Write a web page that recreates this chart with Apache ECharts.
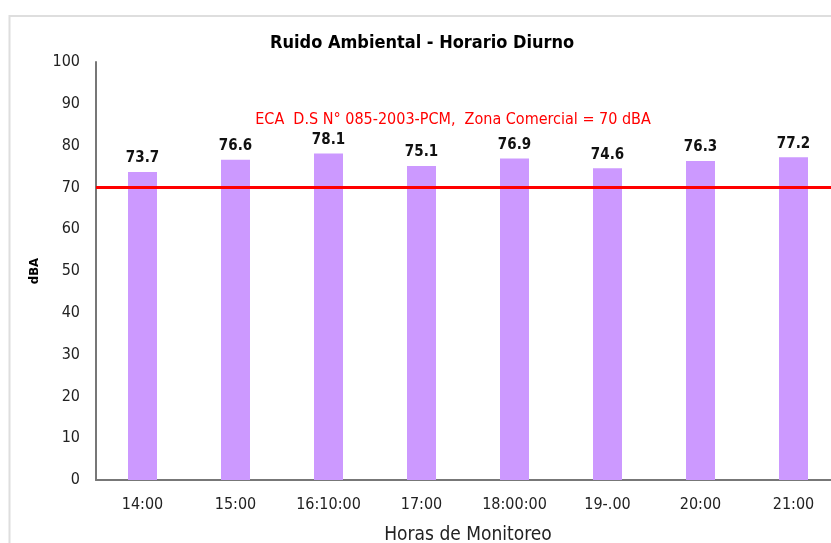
<!DOCTYPE html>
<html>
<head>
<meta charset="utf-8">
<script src="https://cdn.jsdelivr.net/npm/echarts@6/dist/echarts.min.js"></script>
<style>
  html, body { margin: 0; padding: 0; background: #fff; }
  #chart { width: 831px; height: 543px; }
</style>
</head>
<body>
<div id="chart"></div>
<script>
// Measured daytime ambient noise per monitoring hour (dBA)
const horas = ['14:00', '15:00', '16:10:00', '17:00', '18:00:00', '19-.00', '20:00', '21:00'];
const ruido = [73.7, 76.6, 78.1, 75.1, 76.9, 74.6, 76.3, 77.2];
// Environmental quality standard for commercial zones
const limiteECA = 70;
const yTicks = { min: 0, max: 100, interval: 10 };

const cond = "'DejaVu Sans Condensed', 'DejaVu Sans', sans-serif";

const chart = echarts.init(document.getElementById('chart'));
chart.setOption({
  animation: false,
  backgroundColor: '#ffffff',
  graphic: [{
    type: 'rect',
    z: -10,
    shape: { x: 9.5, y: 16, width: 900, height: 700 },
    style: { fill: 'none', stroke: '#dedede', lineWidth: 2 }
  }],
  title: {
    text: 'Ruido Ambiental - Horario Diurno',
    left: 270,
    top: 34,
    padding: 0,
    textStyle: { fontFamily: cond, fontWeight: 'bold', fontSize: 18, color: '#000' }
  },
  grid: { left: 96, top: 62, width: 744, height: 418, outerBoundsMode: 'none', containLabel: false },
  xAxis: {
    type: 'category',
    data: horas,
    name: 'Horas de Monitoreo',
    nameLocation: 'middle',
    nameGap: 46,
    nameTextStyle: { fontFamily: cond, fontSize: 19, color: '#222' },
    axisLine: { lineStyle: { color: '#777', width: 2 } },
    axisTick: { show: false },
    axisLabel: { fontFamily: cond, fontSize: 16, color: '#222', margin: 17, interval: 0 }
  },
  yAxis: {
    type: 'value',
    min: yTicks.min,
    max: yTicks.max,
    interval: yTicks.interval,
    name: 'dBA',
    nameLocation: 'middle',
    nameRotate: 90,
    nameGap: 55,
    nameTextStyle: { fontFamily: cond, fontWeight: 'bold', fontSize: 13, color: '#000' },
    axisLine: { show: true, lineStyle: { color: '#777', width: 2 } },
    axisTick: { show: false },
    splitLine: { show: false },
    axisLabel: { fontFamily: cond, fontSize: 16, color: '#222', margin: 16 }
  },
  series: [{
    type: 'bar',
    data: ruido,
    barWidth: 29,
    itemStyle: { color: '#cc99ff' },
    label: {
      show: true,
      position: 'top',
      distance: 6,
      fontFamily: cond,
      fontWeight: 'bold',
      fontSize: 15,
      color: '#111'
    },
    markLine: {
      silent: true,
      symbol: 'none',
      lineStyle: { color: '#ff0000', width: 3, type: 'solid' },
      label: {
        show: true,
        position: 'insideMiddleTop',
        distance: 60,
        offset: [-15, 0],
        fontFamily: cond,
        fontSize: 16,
        color: '#ff0000',
        formatter: 'ECA  D.S N° 085-2003-PCM,  Zona Comercial = ' + limiteECA + ' dBA'
      },
      data: [{ yAxis: limiteECA }]
    }
  }]
});
</script>
</body>
</html>
